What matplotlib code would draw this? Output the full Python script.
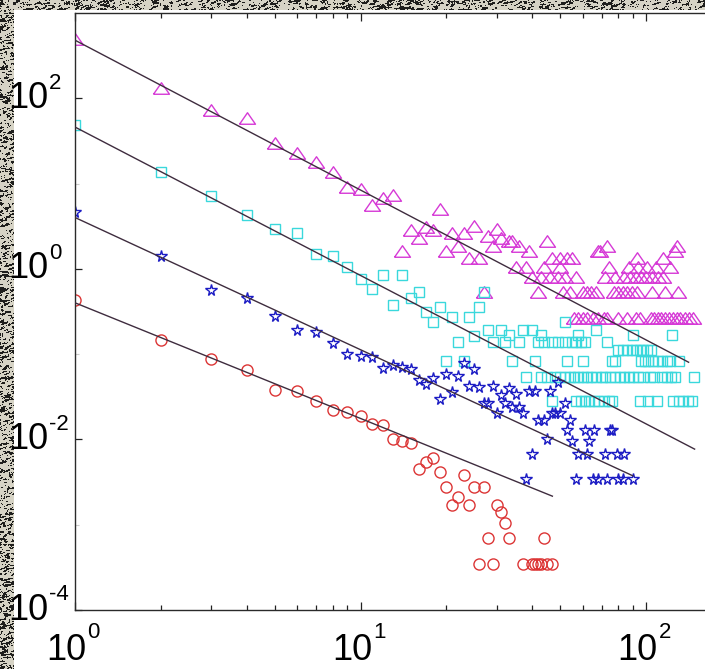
import numpy as np
import matplotlib
matplotlib.use("Agg")
import matplotlib.pyplot as plt
from matplotlib.ticker import LogLocator, FixedLocator, NullFormatter
from matplotlib.patches import Rectangle

# ---- data ----
# red circles
circ_x = [1, 2, 3, 4, 5, 6, 7, 8, 9, 10, 11, 12, 13, 14, 15, 16, 17, 18, 19, 20,
          21, 22, 23, 24, 25, 26, 27, 28, 29, 30, 31, 32, 33, 37, 40, 41, 42, 43, 44, 45, 47]
circ_y = [0.43, 0.148, 0.087, 0.066, 0.038, 0.037, 0.028, 0.022, 0.021, 0.019,
          0.015, 0.0146, 0.0102, 0.0097, 0.0092, 0.0045, 0.0055, 0.0061, 0.0041, 0.0028,
          0.0017, 0.0021, 0.0038, 0.0017, 0.0028, 0.00035, 0.0028, 0.0007, 0.00035, 0.0017,
          0.0014, 0.00105, 0.0007, 0.00035, 0.00035, 0.00035, 0.00035, 0.00035, 0.0007,
          0.00035, 0.00035]

# blue stars
star_x = [1, 2, 3, 4, 5, 6, 7, 8, 9, 10, 11, 12, 13, 14, 15, 16, 17, 18, 19, 20,
          21, 22, 23, 24, 25, 26, 27, 28, 29, 30, 31, 32, 33, 34, 35, 36, 37, 38, 39, 40,
          41, 42, 44, 45, 46, 47, 48, 49, 50, 52, 53, 54, 55, 57, 58, 61, 62, 63, 65, 66,
          68, 72, 73, 75, 76, 79, 80, 83, 84, 90]
star_y = [4.6, 1.42, 0.57, 0.45, 0.28, 0.19, 0.18, 0.135, 0.10, 0.095,
          0.092, 0.068, 0.075, 0.070, 0.067, 0.050, 0.045, 0.053, 0.030, 0.058,
          0.036, 0.056, 0.079, 0.042, 0.067, 0.041, 0.027, 0.027, 0.042, 0.0204,
          0.033, 0.027, 0.040, 0.024, 0.034, 0.024, 0.0204, 0.0034, 0.037, 0.0068,
          0.037, 0.017, 0.017, 0.0102, 0.037, 0.0204, 0.0204, 0.047, 0.0204, 0.027,
          0.013, 0.017, 0.0097, 0.0034, 0.0068, 0.013, 0.0068, 0.0097, 0.0034, 0.013,
          0.0034, 0.0068, 0.0034, 0.013, 0.013, 0.0068, 0.0034, 0.0034, 0.0068, 0.0034]

# cyan squares: head (x = 1..29) and tail rows at fixed levels
sq_head_y = [48, 13.6, 7.1, 4.3, 2.9, 2.6, 1.5, 1.42, 1.05, 0.76,
             0.58, 0.85, 0.38, 0.85, 0.45, 0.53, 0.31, 0.24, 0.36, 0.084,
             0.27, 0.14, 0.084, 0.27, 0.165, 0.36, 0.53, 0.19, 0.14]
sq_levels = [0.24, 0.19, 0.168, 0.14, 0.112, 0.084, 0.054, 0.028]
sq_tail_x = [
    [52],
    [31, 37, 40, 67],
    [33, 43, 58, 90, 123],
    [32, 36, 42, 44, 47, 49, 52, 55, 57, 59, 61, 73],
    [80, 83, 86, 89, 92, 95, 98, 101, 104],
    [34, 41, 53, 60, 76, 78, 96, 99, 102, 106, 110, 114, 118, 121, 131],
    [38, 43, 45, 48, 50, 52, 54, 56, 58, 60, 62, 64, 67, 70, 72, 75, 78, 81, 84,
     87, 90, 94, 98, 103, 107, 114, 118, 122, 126, 147],
    [47, 57, 59, 61, 63, 66, 68, 71, 74, 76, 95, 102, 109, 124, 130, 135, 140, 145],
]

# magenta triangles: head (x = 1..30) and tail rows
tri_head_y = [500, 131, 72, 58, 30, 22.7, 17.8, 13.6, 9.1, 8.6,
              5.6, 6.8, 7.3, 1.6, 2.86, 2.3, 3.1, 2.86, 5.0, 1.6,
              2.6, 1.85, 2.6, 1.35, 3.2, 1.35, 0.54, 2.4, 1.85, 2.95]
tri_levels = [2.3, 2.1, 1.85, 1.6, 1.35, 1.05, 0.8, 0.54, 0.267]
tri_tail_x = [
    [31],
    [33, 34, 45],
    [36, 73, 128],
    [39, 68, 69, 126],
    [47, 50, 53, 55, 93, 115],
    [35, 38, 44, 50, 74, 87, 94, 101, 108, 121],
    [40, 43, 46, 49, 52, 57, 72, 78, 84, 88, 92, 96, 100, 105, 110, 115],
    [42, 51, 54, 60, 62, 64, 67, 77, 80, 83, 86, 89, 93, 105, 117, 129],
    [56, 58, 60, 62, 65, 68, 71, 73, 80, 86, 92, 95, 104, 107, 110, 113, 117,
     120, 124, 128, 132, 137, 142, 146],
]

# power-law fits  y = amp * x^-exp, drawn from x=1 to xmax
fit_amp = [480, 46, 4.0, 0.40]
fit_exp = [1.757, 1.74, 1.55, 1.356]
fit_xmax = [141, 148, 90, 47]

y_tick_vals = [1e-4, 1e-2, 1e0, 1e2]
y_tick_exp = ["-4", "-2", "0", "2"]
x_tick_vals = [1, 10, 100]
x_tick_exp = ["0", "1", "2"]


def expand(head_y, levels, tail_x):
    xs = list(range(1, len(head_y) + 1))
    ys = list(head_y)
    for lv, row in zip(levels, tail_x):
        xs += row
        ys += [lv] * len(row)
    return xs, ys


sq_x, sq_y = expand(sq_head_y, sq_levels, sq_tail_x)
tri_x, tri_y = expand(tri_head_y, tri_levels, tri_tail_x)

W, H = 705, 669
fig = plt.figure(figsize=(W / 100, H / 100), dpi=100)

# speckled stone background
rng = np.random.default_rng(7)
noise = rng.random((H, W))
blur = noise.copy()
for dy, dx in [(0, 1), (0, 2), (0, 3), (1, 1), (1, 0)]:
    blur += np.roll(np.roll(noise, dy, 0), dx, 1)
blur /= 6
img = np.empty((H, W, 3))
img[:] = np.array([214, 211, 197]) / 255
img[blur > 0.56] = np.array([30, 30, 28]) / 255
fig.figimage(img, 0, 0, origin="upper", zorder=0)
fig.add_artist(Rectangle((14 / W, 0), 1, (H - 10) / H, transform=fig.transFigure,
                         facecolor="white", edgecolor="none", zorder=1))

ax = fig.add_axes([75 / W, (H - 610) / H, (W - 75) / W, 597 / H])
ax.set_zorder(3)
ax.set_facecolor("white")
ax.set_xscale("log")
ax.set_yscale("log")
ax.set_xlim(1, 10 ** ((W - 75) / 285.5))
ax.set_ylim(1e-4, 1e3)

mk = dict(linestyle="none", markerfacecolor="none", markeredgewidth=1.0)
tri_marker = [(-1, -0.72), (1, -0.72), (0, 0.72), (-1, -0.72)]
ax.plot(tri_x, tri_y, marker=tri_marker, markersize=11.5, markeredgecolor="#d63ad6", **mk)
ax.plot(sq_x, sq_y, marker="s", markersize=7.5, markeredgecolor="#3ad8dc", **mk)
ax.plot(star_x, star_y, marker="*", markersize=8.5, markeredgecolor="#1c1cc4", **mk)
ax.plot(circ_x, circ_y, marker="o", markersize=8, markeredgecolor="#dc3535", **mk)

for a, k, xm in zip(fit_amp, fit_exp, fit_xmax):
    xx = np.array([1.0, xm])
    ax.plot(xx, a * xx ** (-k), color="#3e2c3e", lw=1.0, zorder=4)

for s in ["top", "left", "bottom"]:
    ax.spines[s].set_color("#2a2a2a")
    ax.spines[s].set_linewidth(1.0)
ax.spines["right"].set_visible(False)

ax.xaxis.set_major_locator(LogLocator(base=10))
ax.xaxis.set_minor_locator(LogLocator(base=10, subs=np.arange(2, 10)))
ax.yaxis.set_major_locator(FixedLocator(y_tick_vals))
ax.yaxis.set_minor_locator(FixedLocator([1e-3, 1e-1, 1e1]))
for axis in (ax.xaxis, ax.yaxis):
    axis.set_major_formatter(NullFormatter())
    axis.set_minor_formatter(NullFormatter())
ax.tick_params(axis="x", which="both", direction="in", top=True, bottom=True, color="#222222")
ax.tick_params(axis="x", which="major", length=6, width=0.9)
ax.tick_params(axis="x", which="minor", length=3.8, width=0.9)
ax.tick_params(axis="y", which="major", direction="in", left=True, right=False,
               length=5, width=0.9, color="#222222")
ax.tick_params(axis="y", which="minor", direction="in", left=True, right=False,
               length=3, width=0.8, color="#cccccc")

fam = ["Liberation Sans Narrow", "Liberation Sans", "DejaVu Sans"]
base_fs, exp_fs = 26, 16
for v, e in zip(y_tick_vals, y_tick_exp):
    ax.annotate("10", xy=(48 / W, v), xycoords=("figure fraction", "data"),
                ha="right", va="center", fontsize=base_fs, family=fam,
                annotation_clip=False)
    ax.annotate(e, xy=(48 / W, v), xycoords=("figure fraction", "data"),
                xytext=(0.5, 11), textcoords="offset points",
                ha="left", va="center", fontsize=exp_fs, family=fam,
                annotation_clip=False)
for v, e in zip(x_tick_vals, x_tick_exp):
    ax.annotate("10", xy=(v, (H - 651) / H), xycoords=("data", "figure fraction"),
                xytext=(8.5, 0), textcoords="offset points",
                ha="right", va="center", fontsize=base_fs, family=fam,
                annotation_clip=False)
    ax.annotate(e, xy=(v, (H - 651) / H), xycoords=("data", "figure fraction"),
                xytext=(9, 13), textcoords="offset points",
                ha="left", va="center", fontsize=exp_fs, family=fam,
                annotation_clip=False)

fig.savefig("out.png", dpi=100)
